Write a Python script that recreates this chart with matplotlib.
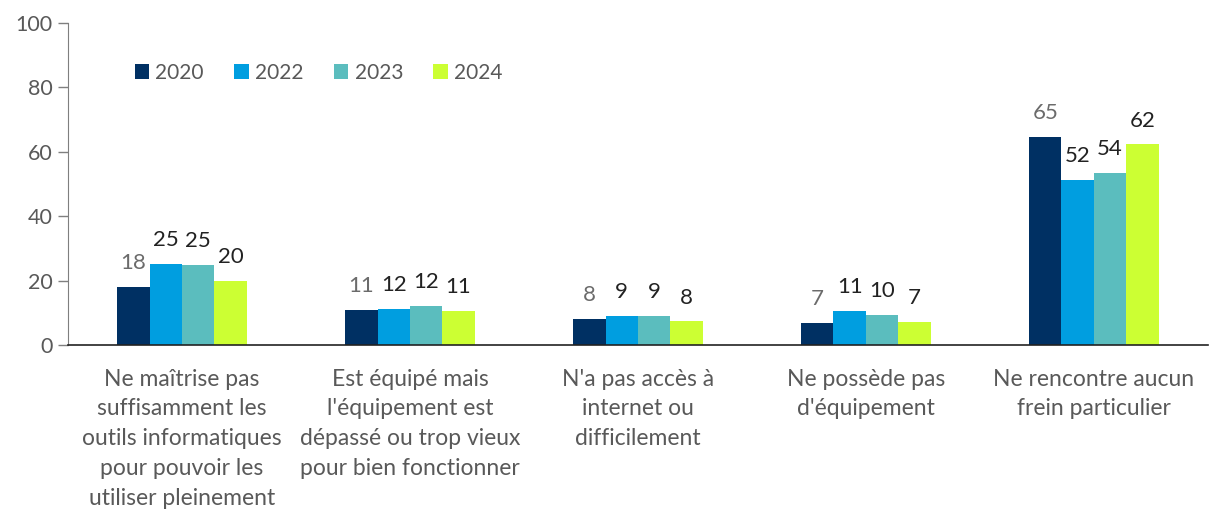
import matplotlib
matplotlib.use("Agg")
import matplotlib.pyplot as plt
import numpy as np

plt.rcParams['font.family'] = ['Lato', 'DejaVu Sans']

categories = [
    "Ne maîtrise pas\nsuffisamment les\noutils informatiques\npour pouvoir les\nutiliser pleinement",
    "Est équipé mais\nl'équipement est\ndépassé ou trop vieux\npour bien fonctionner",
    "N'a pas accès à\ninternet ou\ndifficilement",
    "Ne possède pas\nd'équipement",
    "Ne rencontre aucun\nfrein particulier",
]
years = ["2020", "2022", "2023", "2024"]
values_2020 = [18.0, 10.9, 8.0, 6.9, 64.6]
values_2022 = [25.2, 11.2, 8.9, 10.6, 51.3]
values_2023 = [24.8, 12.2, 8.9, 9.3, 53.3]
values_2024 = [19.9, 10.6, 7.3, 7.2, 62.3]
labels_2020 = ["18", "11", "8", "7", "65"]
labels_2022 = ["25", "12", "9", "11", "52"]
labels_2023 = ["25", "12", "9", "10", "54"]
labels_2024 = ["20", "11", "8", "7", "62"]
colors = ["#003063", "#009EE0", "#5BBDBE", "#CCFF33"]
label_colors = ["#6b6b6b", "#222222", "#222222", "#222222"]

series = [values_2020, values_2022, values_2023, values_2024]
series_labels = [labels_2020, labels_2022, labels_2023, labels_2024]

fig = plt.figure(figsize=(12.09, 5.18), dpi=100)
ax = fig.add_axes([68/1209, 1-345/518, 1-68/1209 - 0.001, (345-23)/518])

x = np.arange(len(categories))
w = 0.142
for i, (vals, labs) in enumerate(zip(series, series_labels)):
    pos = x + (i - 1.5) * w
    ax.bar(pos, vals, width=w, color=colors[i], label=years[i], zorder=2)
    for p, v, l in zip(pos, vals, labs):
        ax.annotate(l, (p, v), xytext=(0, 10), textcoords="offset points",
                    ha="center", va="bottom", fontsize=16, color=label_colors[i])

ax.set_xlim(-0.5, 4.5)
ax.set_ylim(0, 100)
ax.set_yticks([0, 20, 40, 60, 80, 100])
ax.set_xticks(x)
ax.set_xticklabels(categories, fontsize=16.5, color="#595959", linespacing=1.52)
ax.tick_params(axis="x", length=0, pad=17)
ax.tick_params(axis="y", labelsize=15.5, labelcolor="#595959", color="#7f7f7f",
               length=7, width=1, pad=4)
for s in ["top", "right"]:
    ax.spines[s].set_visible(False)
ax.spines["left"].set_color("#7f7f7f")
ax.spines["bottom"].set_color("#222222")
ax.spines["bottom"].set_linewidth(1.2)

leg = ax.legend(loc="upper left", bbox_to_anchor=(0.042, 0.935), ncol=4, frameon=False,
                fontsize=15, handlelength=0.7, handleheight=0.7, handletextpad=0.3,
                columnspacing=1.45)
for t in leg.get_texts():
    t.set_color("#595959")

fig.savefig("out.png", dpi=100)
